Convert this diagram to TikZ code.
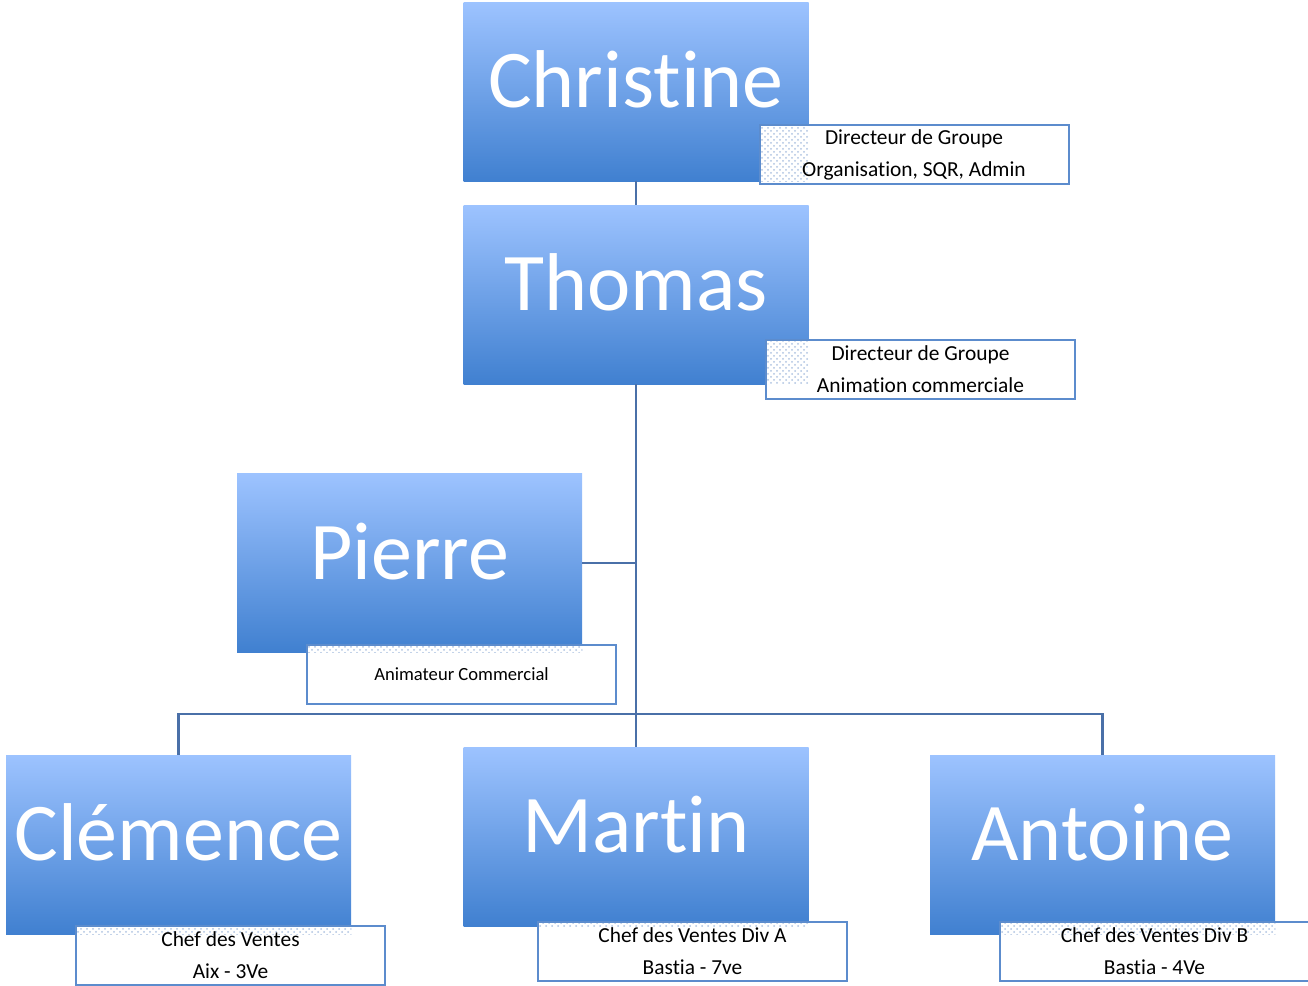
\documentclass[tikz,border=0pt]{standalone}
\usepackage{fontspec}
\setmainfont{Carlito}[Ligatures=NoCommon]
\usetikzlibrary{patterns}
\definecolor{boxtop}{RGB}{157,195,255}
\definecolor{boxbot}{RGB}{64,128,208}
\definecolor{linkc}{RGB}{74,112,168}
\definecolor{lblc}{RGB}{92,140,205}
\definecolor{dotc}{RGB}{175,195,225}
\tikzset{
  person/.style={rectangle, inner sep=0pt, minimum width=172.5pt, minimum height=89.5pt,
    top color=boxtop, bottom color=boxbot, text=white,
    font=\fontsize{41}{44}\selectfont, text height=29pt, text depth=13pt},
  rolebg/.style={rectangle, draw=none, fill=white, inner sep=0pt,
    minimum width=154.5pt, minimum height=29.5pt},
  role/.style={rectangle, draw=lblc, line width=1pt, inner sep=0pt,
    minimum width=154.5pt, minimum height=29.5pt, align=center,
    font=\fontsize{10.7}{16}\selectfont},
  link/.style={draw=linkc, line width=1.1pt},
  overlap/.style={pattern=crosshatch dots, pattern color=dotc}
}
\newcommand{\ovl}[2]{%
  \begin{scope}
    \clip (#1.south west) rectangle (#1.north east);
    \fill[overlap] (#2.south west) rectangle (#2.north east);
  \end{scope}}
\begin{document}
\begin{tikzpicture}[x=0.5pt,y=-0.5pt]
\useasboundingbox (0,0) rectangle (1308,986);
% person boxes
\node[person] (chr) at (636,91.5) {Christine};
\node[person] (tho) at (636,294.5) {Thomas};
\node[person] (pie) at (409.5,563) {Pierre};
\node[person] (cle) at (178.5,844.5) {Clémence};
\node[person] (mar) at (636,836.5) {Martin};
\node[person] (ant) at (1102.5,844.5) {Antoine};
% connectors
\coordinate (bus) at (636,714);
\coordinate (pj) at (636,563);
\draw[link] (chr.south) -- (tho.north);
\draw[link] (tho.south) -- (mar.north);
\draw[link] (pie.east) -- (pj);
\draw[link] (cle.north) |- (bus) -| (ant.north);
% role boxes: white ground, dotted overlap, then framed text
\node[rolebg] (chrg) at (914,154.5) {};
\ovl{chr}{chrg}
\node[role] (chrr) at (chrg) {Directeur de Groupe\\Organisation, SQR, Admin};
\node[rolebg] (thog) at (920.5,369.5) {};
\ovl{tho}{thog}
\node[role] (thor) at (thog) {Directeur de Groupe\\Animation commerciale};
\node[rolebg] (pieg) at (461.5,674.5) {};
\ovl{pie}{pieg}
\node[role,font=\fontsize{9.3}{14}\selectfont] (pier) at (pieg) {Animateur Commercial};
\node[rolebg] (cleg) at (230.5,955.5) {};
\ovl{cle}{cleg}
\node[role] (cler) at (cleg) {Chef des Ventes\\Aix - 3Ve};
\node[rolebg] (marg) at (692.5,951.5) {};
\ovl{mar}{marg}
\node[role] (marr) at (marg) {Chef des Ventes Div A\\Bastia - 7ve};
\node[rolebg] (antg) at (1154.5,951.5) {};
\ovl{ant}{antg}
\node[role] (antr) at (antg) {Chef des Ventes Div B\\Bastia - 4Ve};
\end{tikzpicture}
\end{document}
